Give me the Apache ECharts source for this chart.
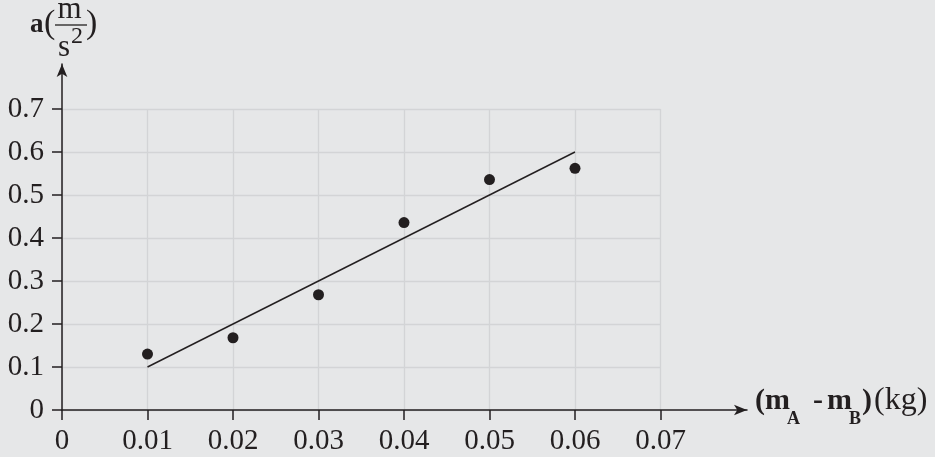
<!DOCTYPE html>
<html>
<head>
<meta charset="utf-8">
<script src="https://cdn.jsdelivr.net/npm/echarts@6/dist/echarts.min.js"></script>
<style>
  html, body { margin: 0; padding: 0; background: #e6e7e8; }
  #chart { width: 935px; height: 457px; }
</style>
</head>
<body>
<div id="chart"></div>
<script>
// Measured acceleration against mass difference
const massDiff = [0.01, 0.02, 0.03, 0.04, 0.05, 0.06];
const accel = [0.13, 0.168, 0.268, 0.436, 0.536, 0.562];
// Straight-line fit through the measurements
const fitX = [0.01, 0.06];
const fitY = [0.1, 0.6];
// Axis ticks
const xTicks = [0, 0.01, 0.02, 0.03, 0.04, 0.05, 0.06, 0.07];
const yTicks = [0, 0.1, 0.2, 0.3, 0.4, 0.5, 0.6, 0.7];

const INK = '#231f20';
const GRID = '#d3d4d6';
const SERIF = '"Liberation Serif", "DejaVu Serif", serif';

const chart = echarts.init(document.getElementById('chart'), null, { renderer: 'canvas' });

const labelFmt = v => {
  const hit = xTicks.concat(yTicks).find(t => Math.abs(t - v) < 1e-9);
  return hit === 0 ? '0' : String(hit);
};

// Text piece placed by its baseline (canvas 'middle' sits ~0.3375em above it)
function txt(x, baseline, text, size, bold, align) {
  return {
    type: 'text',
    style: {
      x: x, y: baseline - 0.3375 * size, text: text,
      font: (bold ? 'bold ' : '') + size + 'px ' + SERIF,
      fill: INK,
      align: align || 'left',
      verticalAlign: 'middle'
    },
    z: 100
  };
}

chart.setOption({
  backgroundColor: '#e6e7e8',
  animation: false,
  grid: [
    // plotting area with gridlines, ticks and labels
    { left: 62, top: 109, width: 598.5, height: 301 },
    // longer frame that carries the arrowed axis lines
    { left: 62, top: 64, width: 685, height: 346 }
  ],
  xAxis: [
    {
      type: 'value', gridIndex: 0, min: xTicks[0], max: xTicks[xTicks.length - 1], interval: 0.01,
      axisLine: { show: false },
      axisTick: { show: true, length: 10, lineStyle: { color: INK, width: 1.5 } },
      axisLabel: { show: true, margin: 17, color: INK, fontFamily: SERIF, fontSize: 29, formatter: labelFmt },
      splitLine: { show: true, lineStyle: { color: GRID, width: 1.3 } }
    },
    {
      type: 'value', gridIndex: 1, min: 0, max: 1,
      axisLine: { show: true, symbol: ['none', 'arrow'], symbolSize: [8, 13], lineStyle: { color: INK, width: 1.5 } },
      axisTick: { show: false }, axisLabel: { show: false }, splitLine: { show: false }
    }
  ],
  yAxis: [
    {
      type: 'value', gridIndex: 0, min: yTicks[0], max: yTicks[yTicks.length - 1], interval: 0.1,
      axisLine: { show: false },
      axisTick: { show: true, length: 10, lineStyle: { color: INK, width: 1.5 } },
      axisLabel: { show: true, margin: 18, color: INK, fontFamily: SERIF, fontSize: 29, formatter: labelFmt },
      splitLine: { show: true, lineStyle: { color: GRID, width: 1.3 } }
    },
    {
      type: 'value', gridIndex: 1, min: 0, max: 1,
      axisLine: { show: true, symbol: ['none', 'arrow'], symbolSize: [8, 13], lineStyle: { color: INK, width: 1.5 } },
      axisTick: { show: false }, axisLabel: { show: false }, splitLine: { show: false }
    }
  ],
  series: [
    {
      type: 'line', xAxisIndex: 0, yAxisIndex: 0,
      data: fitX.map((x, i) => [x, fitY[i]]),
      symbol: 'none',
      lineStyle: { color: INK, width: 1.4 },
      z: 3
    },
    {
      type: 'scatter', xAxisIndex: 0, yAxisIndex: 0,
      data: massDiff.map((x, i) => [x, accel[i]]),
      symbol: 'circle', symbolSize: 11,
      itemStyle: { color: INK, opacity: 1 },
      z: 4
    }
  ],
  graphic: [
    // a (m / s^2)
    txt(30, 34, 'a', 27, true),
    txt(44, 36, '(', 34, false),
    txt(69.5, 20, 'm', 31, false, 'center'),
    { type: 'line', shape: { x1: 55, y1: 25, x2: 87, y2: 25 }, style: { stroke: INK, lineWidth: 1.3 }, z: 100 },
    txt(58, 58, 's', 31, false),
    txt(71, 45, '2', 24, false),
    txt(86, 36, ')', 34, false),
    // (m_A - m_B)(kg)
    txt(755, 411, '(', 30, true),
    txt(765, 411, 'm', 30, true),
    txt(787, 425, 'A', 18, true),
    txt(813, 411, '-', 30, true),
    txt(827, 411, 'm', 30, true),
    txt(849, 425, 'B', 18, true),
    txt(862, 411, ')', 30, true),
    txt(874, 411, '(kg)', 32, false)
  ]
});
</script>
</body>
</html>
